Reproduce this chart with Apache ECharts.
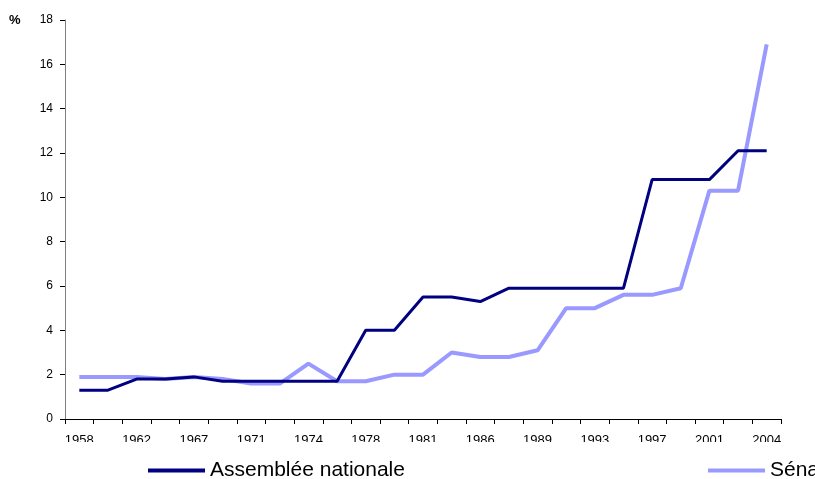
<!DOCTYPE html>
<html>
<head>
<meta charset="utf-8">
<script src="https://cdn.jsdelivr.net/npm/echarts@6/dist/echarts.min.js"></script>
<style>
  html, body { margin: 0; padding: 0; background: #fff; }
  #chart { width: 815px; height: 479px; }
</style>
</head>
<body>
<div id="chart"></div>
<script>
// Election years (union of both chambers' renewal years)
const years = ['1958', '1959', '1962', '1965', '1967', '1968', '1971', '1973', '1974', '1977',
               '1978', '1980', '1981', '1983', '1986', '1988', '1989', '1992', '1993', '1995',
               '1997', '1998', '2001', '2002', '2004'];

// Share of women (%) in each chamber
const assemblee = [1.3, 1.3, 1.8, 1.8, 1.9, 1.7, 1.7, 1.7, 1.7, 1.7,
                   4.0, 4.0, 5.5, 5.5, 5.3, 5.9, 5.9, 5.9, 5.9, 5.9,
                   10.8, 10.8, 10.8, 12.1, 12.1];
const senat = [1.9, 1.9, 1.9, 1.8, 1.9, 1.8, 1.6, 1.6, 2.5, 1.7,
               1.7, 2.0, 2.0, 3.0, 2.8, 2.8, 3.1, 5.0, 5.0, 5.6,
               5.6, 5.9, 10.3, 10.3, 16.9];

const yTicks = { min: 0, max: 18, interval: 2 };

const chart = echarts.init(document.getElementById('chart'), null, { renderer: 'canvas' });
chart.setOption({
  animation: false,
  backgroundColor: '#ffffff',
  textStyle: { fontFamily: 'Liberation Sans, Arial, sans-serif' },
  grid: { left: 65, right: 34, top: 20, bottom: 60, containLabel: false },
  xAxis: {
    type: 'category',
    data: years,
    boundaryGap: true,
    axisLine: { lineStyle: { color: '#000', width: 1 } },
    axisTick: { show: true, length: 5, interval: 0, lineStyle: { color: '#000' } },
    axisLabel: { interval: 1, margin: 15, fontSize: 13, color: '#000' },
    splitLine: { show: false }
  },
  yAxis: {
    type: 'value',
    min: yTicks.min, max: yTicks.max, interval: yTicks.interval,
    axisLine: { show: true, lineStyle: { color: '#808080', width: 1 } },
    axisTick: { show: true, length: 5, lineStyle: { color: '#000' } },
    axisLabel: { margin: 12, fontSize: 12, color: '#000' },
    splitLine: { show: false }
  },
  legend: [
    {
      data: ['Assemblée nationale'],
      left: 148, top: 460, padding: 0,
      icon: 'rect', itemWidth: 57, itemHeight: 4,
      textStyle: { fontSize: 21, color: '#000' }
    },
    {
      data: ['Sénat'],
      left: 708, top: 460, padding: 0,
      icon: 'rect', itemWidth: 57, itemHeight: 4,
      textStyle: { fontSize: 21, color: '#000' }
    }
  ],
  graphic: [
    {
      type: 'rect', left: 0, top: 442, z: 100,
      shape: { width: 815, height: 14 },
      style: { fill: '#ffffff' }
    },
    {
      type: 'text', left: 9, top: 14, z: 100,
      style: { text: '%', font: 'bold 13px Liberation Sans, Arial, sans-serif', fill: '#000' }
    }
  ],
  series: [
    {
      name: 'Sénat',
      type: 'line',
      data: senat,
      symbol: 'none',
      color: '#9999ff',
      lineStyle: { color: '#9999ff', width: 4 },
      z: 2
    },
    {
      name: 'Assemblée nationale',
      type: 'line',
      data: assemblee,
      symbol: 'none',
      color: '#000080',
      lineStyle: { color: '#000080', width: 3 },
      z: 3
    }
  ]
});
</script>
</body>
</html>
